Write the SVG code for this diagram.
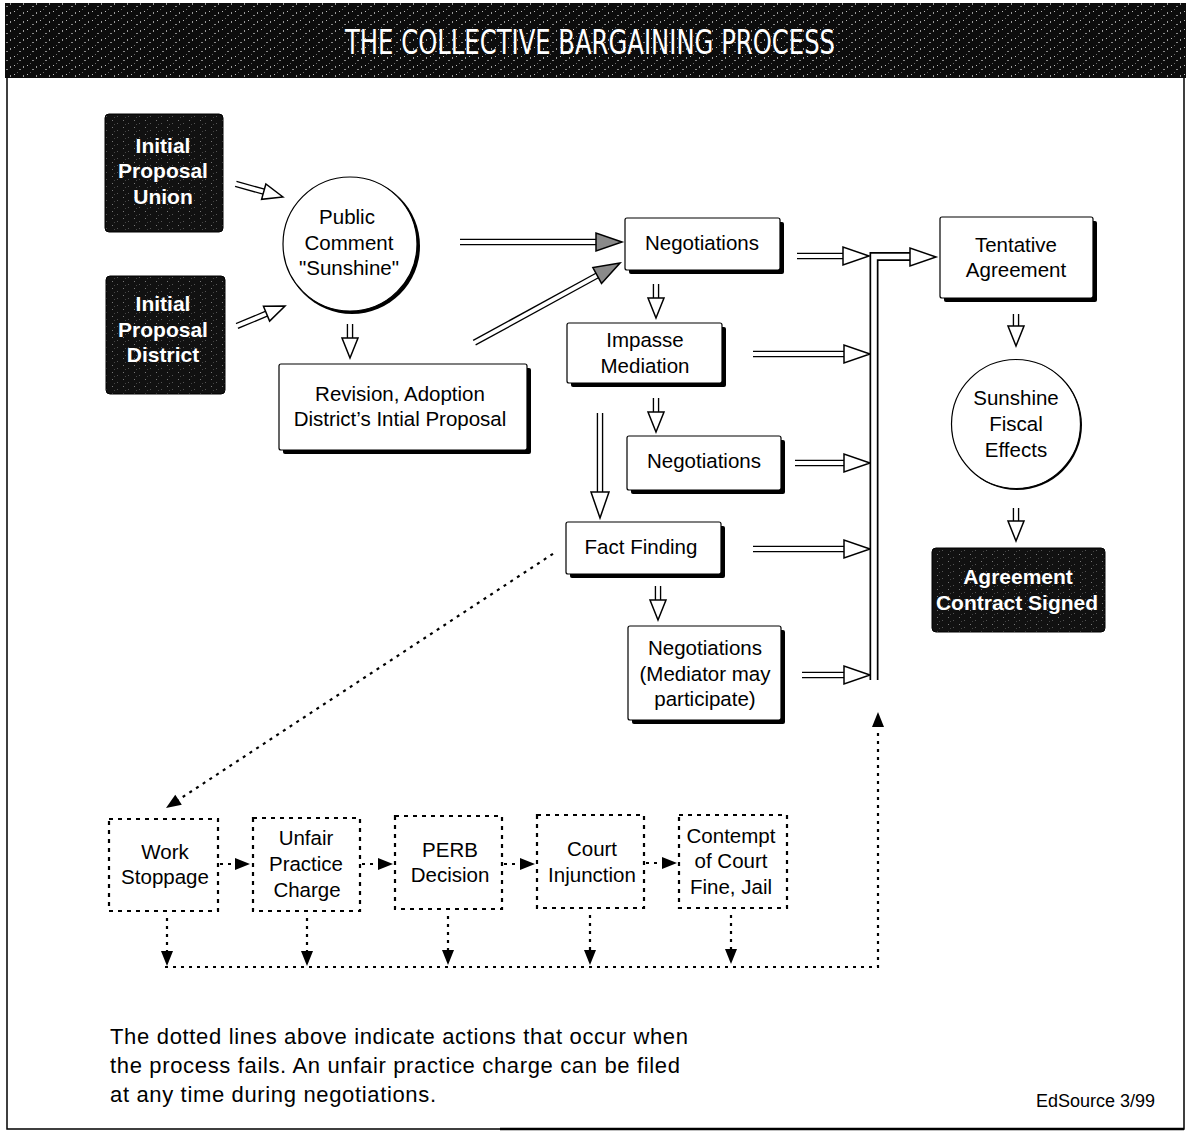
<svg xmlns="http://www.w3.org/2000/svg" xmlns:xlink="http://www.w3.org/1999/xlink" width="1188" height="1133" viewBox="0 0 1188 1133">
<style>
.t{font-family:"Liberation Sans",Arial,sans-serif;font-size:20.5px;fill:#000;text-anchor:middle}
.tw{font-family:"Liberation Sans",Arial,sans-serif;font-size:21px;font-weight:bold;fill:#fff;text-anchor:middle}
.bx{fill:#fff;stroke:#000;stroke-width:1.2}
.shd{fill:#000}
.blk{fill:url(#speck);stroke:#000;stroke-width:1}
.sh{fill:none;stroke:#000;stroke-width:6.5}
.si{fill:none;stroke:#fff;stroke-width:3.8}
.shw{fill:none;stroke:#000;stroke-width:9}
.siw{fill:none;stroke:#fff;stroke-width:5.6}
.hd{fill:#fff;stroke:#000;stroke-width:1.5;stroke-linejoin:miter}
.hg{fill:#8a8a8a;stroke:#000;stroke-width:1.5}
.dot{fill:none;stroke:#000;stroke-width:2.2;stroke-dasharray:3 5}
.dbx{fill:#fff;stroke:#000;stroke-width:2.2;stroke-dasharray:4 5}
.sol{fill:#000}
</style>
<defs>
<pattern id="speck" width="11" height="7" patternUnits="userSpaceOnUse">
<rect width="11" height="7" fill="#111"/>
<rect x="2" y="1" width="1" height="1" fill="#777"/>
<rect x="7" y="4" width="1" height="1" fill="#555"/>
<rect x="4" y="5" width="1" height="1" fill="#444"/>
</pattern>
<pattern id="hspeck" width="13" height="9" patternUnits="userSpaceOnUse">
<rect width="13" height="9" fill="#0c0c0c"/>
<rect x="1" y="2" width="1" height="1" fill="#bbb"/>
<rect x="6" y="6" width="2" height="1" fill="#888"/>
<rect x="10" y="3" width="1" height="2" fill="#999"/>
<rect x="4" y="0" width="1" height="1" fill="#666"/>
</pattern>
<path id="hdL" d="M0,0 L-26,-9 L-26,9 Z"/>
<path id="hdS" d="M0,0 L-20,-8 L-20,8 Z"/>
<path id="dh" d="M0,0 L-15,-6 L-15,6 Z"/>
</defs>

<rect x="0" y="0" width="1188" height="1133" fill="#fff"/>

<!-- header -->
<g id="header">
<rect x="5" y="3" width="1181" height="75" fill="url(#hspeck)"/>
<text x="590" y="54" font-family="'DejaVu Sans Condensed','Liberation Sans',sans-serif" font-size="34" fill="#fff" text-anchor="middle" textLength="490" lengthAdjust="spacingAndGlyphs">THE COLLECTIVE BARGAINING PROCESS</text>
</g>
<g id="frame" fill="none" stroke="#000">
<path d="M7,78 V1129 H1184 V78" stroke-width="1.5"/>
<path d="M500,1129 H1184" stroke-width="2.5"/>
</g>

<!-- nodes -->
<g id="union">
<rect class="blk" x="105" y="114" width="118" height="118" rx="4"/>
<text class="tw" x="163" y="153">Initial</text>
<text class="tw" x="163" y="178">Proposal</text>
<text class="tw" x="163" y="204">Union</text>
</g>
<g id="district">
<rect class="blk" x="106" y="276" width="119" height="118" rx="4"/>
<text class="tw" x="163" y="311">Initial</text>
<text class="tw" x="163" y="337">Proposal</text>
<text class="tw" x="163" y="362">District</text>
</g>
<g id="public">
<circle class="shd" cx="352" cy="246" r="68"/>
<circle class="bx" cx="350" cy="244" r="67"/>
<text class="t" x="347" y="224">Public</text>
<text class="t" x="349" y="250">Comment</text>
<text class="t" x="349" y="275">"Sunshine"</text>
</g>
<g id="revision">
<rect class="shd" x="283" y="368" width="248" height="86" rx="2"/>
<rect class="bx" x="279" y="364" width="248" height="86" rx="2"/>
<text class="t" x="400" y="401">Revision, Adoption</text>
<text class="t" x="400" y="426">District’s Intial Proposal</text>
</g>
<g id="neg1">
<rect class="shd" x="629" y="222" width="155" height="52" rx="2"/>
<rect class="bx" x="625" y="218" width="155" height="52" rx="2"/>
<text class="t" x="702" y="250">Negotiations</text>
</g>
<g id="impasse">
<rect class="shd" x="571" y="327" width="155" height="60" rx="2"/>
<rect class="bx" x="567" y="323" width="155" height="60" rx="2"/>
<text class="t" x="645" y="347">Impasse</text>
<text class="t" x="645" y="373">Mediation</text>
</g>
<g id="neg2">
<rect class="shd" x="631" y="440" width="154" height="54" rx="2"/>
<rect class="bx" x="627" y="436" width="154" height="54" rx="2"/>
<text class="t" x="704" y="468">Negotiations</text>
</g>
<g id="factfinding">
<rect class="shd" x="570" y="526" width="155" height="52" rx="2"/>
<rect class="bx" x="566" y="522" width="155" height="52" rx="2"/>
<text class="t" x="641" y="554">Fact Finding</text>
</g>
<g id="neg3">
<rect class="shd" x="632" y="630" width="153" height="94" rx="2"/>
<rect class="bx" x="628" y="626" width="153" height="94" rx="2"/>
<text class="t" x="705" y="655">Negotiations</text>
<text class="t" x="705" y="681">(Mediator may</text>
<text class="t" x="705" y="706">participate)</text>
</g>
<g id="tentative">
<rect class="shd" x="944" y="221" width="153" height="81" rx="2"/>
<rect class="bx" x="940" y="217" width="153" height="81" rx="2"/>
<text class="t" x="1016" y="252">Tentative</text>
<text class="t" x="1016" y="277">Agreement</text>
</g>
<g id="sunshine">
<circle class="shd" cx="1017" cy="425" r="65"/>
<circle class="bx" cx="1016" cy="424" r="64.5"/>
<text class="t" x="1016" y="405">Sunshine</text>
<text class="t" x="1016" y="431">Fiscal</text>
<text class="t" x="1016" y="457">Effects</text>
</g>
<g id="agreement">
<rect class="blk" x="932" y="548" width="173" height="84" rx="4"/>
<text class="tw" x="1018" y="584">Agreement</text>
<text class="tw" x="1017" y="610">Contract Signed</text>
</g>

<g id="workstoppage">
<rect class="dbx" x="109" y="819" width="109" height="92"/>
<text class="t" x="165" y="859">Work</text>
<text class="t" x="165" y="884">Stoppage</text>
</g>
<g id="unfair">
<rect class="dbx" x="253" y="818" width="107" height="93"/>
<text class="t" x="306" y="845">Unfair</text>
<text class="t" x="306" y="871">Practice</text>
<text class="t" x="307" y="897">Charge</text>
</g>
<g id="perb">
<rect class="dbx" x="395" y="816" width="107" height="93"/>
<text class="t" x="450" y="857">PERB</text>
<text class="t" x="450" y="882">Decision</text>
</g>
<g id="court">
<rect class="dbx" x="537" y="815" width="107" height="93"/>
<text class="t" x="592" y="856">Court</text>
<text class="t" x="592" y="882">Injunction</text>
</g>
<g id="contempt">
<rect class="dbx" x="679" y="815" width="108" height="93"/>
<text class="t" x="731" y="843">Contempt</text>
<text class="t" x="731" y="868">of Court</text>
<text class="t" x="731" y="894">Fine, Jail</text>
</g>

<!-- connectors -->
<g id="connectors">
<g transform="translate(283,197) rotate(15.5)">
<path class="sh" d="M-49,0 H-19"/><path class="si" d="M-50,0 H-19"/><use href="#hdS" class="hd"/>
</g>
<g transform="translate(285,306) rotate(-22.6)">
<path class="sh" d="M-52,0 H-19"/><path class="si" d="M-53,0 H-19"/><use href="#hdS" class="hd"/>
</g>
<g transform="translate(622,242)">
<path class="sh" d="M-162,0 H-25"/><path class="si" d="M-163,0 H-25"/><use href="#hdL" class="hg"/>
</g>
<g transform="translate(620,263) rotate(-28.7)">
<path class="sh" d="M-166,0 H-25"/><path class="si" d="M-167,0 H-25"/><use href="#hdL" class="hg"/>
</g>
<g transform="translate(350,358) rotate(90)">
<path class="sh" d="M-34,0 H-19"/><path class="si" d="M-35,0 H-19"/><use href="#hdS" class="hd"/>
</g>
<g transform="translate(656,318) rotate(90)">
<path class="sh" d="M-34,0 H-19"/><path class="si" d="M-35,0 H-19"/><use href="#hdS" class="hd"/>
</g>
<g transform="translate(656,432) rotate(90)">
<path class="sh" d="M-34,0 H-19"/><path class="si" d="M-35,0 H-19"/><use href="#hdS" class="hd"/>
</g>
<g transform="translate(600,518) rotate(90)">
<path class="sh" d="M-105,0 H-25"/><path class="si" d="M-106,0 H-25"/><use href="#hdL" class="hd"/>
</g>
<g transform="translate(658,620) rotate(90)">
<path class="sh" d="M-34,0 H-19"/><path class="si" d="M-35,0 H-19"/><use href="#hdS" class="hd"/>
</g>
<g transform="translate(869,256)">
<path class="sh" d="M-72,0 H-25"/><path class="si" d="M-73,0 H-25"/><use href="#hdL" class="hd"/>
</g>
<g transform="translate(870,354)">
<path class="sh" d="M-117,0 H-25"/><path class="si" d="M-118,0 H-25"/><use href="#hdL" class="hd"/>
</g>
<g transform="translate(870,463)">
<path class="sh" d="M-75,0 H-25"/><path class="si" d="M-76,0 H-25"/><use href="#hdL" class="hd"/>
</g>
<g transform="translate(870,549)">
<path class="sh" d="M-117,0 H-25"/><path class="si" d="M-118,0 H-25"/><use href="#hdL" class="hd"/>
</g>
<g transform="translate(870,675)">
<path class="sh" d="M-68,0 H-25"/><path class="si" d="M-69,0 H-25"/><use href="#hdL" class="hd"/>
</g>
<path class="shw" d="M874,680 V256.5 H912"/>
<path class="siw" d="M874,681 V256.5 H912"/>
<g transform="translate(936,257)"><use href="#hdL" class="hd"/></g>
<g transform="translate(1016,346) rotate(90)">
<path class="sh" d="M-32,0 H-19"/><path class="si" d="M-33,0 H-19"/><use href="#hdS" class="hd"/>
</g>
<g transform="translate(1016,541) rotate(90)">
<path class="sh" d="M-33,0 H-19"/><path class="si" d="M-34,0 H-19"/><use href="#hdS" class="hd"/>
</g>

<!-- dotted failure path -->
<g transform="translate(166,808) rotate(146.7)">
<path class="dot" d="M-463,0 H-14"/><use href="#dh" class="sol"/>
</g>
<g transform="translate(250,864)"><path class="dot" d="M-30,0 H-14"/><use href="#dh" class="sol"/></g>
<g transform="translate(393,864)"><path class="dot" d="M-31,0 H-14"/><use href="#dh" class="sol"/></g>
<g transform="translate(535,864)"><path class="dot" d="M-31,0 H-14"/><use href="#dh" class="sol"/></g>
<g transform="translate(677,863)"><path class="dot" d="M-31,0 H-14"/><use href="#dh" class="sol"/></g>

<g transform="translate(167,966) rotate(90)"><path class="dot" d="M-48,0 H-14"/><use href="#dh" class="sol"/></g>
<g transform="translate(307,966) rotate(90)"><path class="dot" d="M-48,0 H-14"/><use href="#dh" class="sol"/></g>
<g transform="translate(448,965) rotate(90)"><path class="dot" d="M-49,0 H-14"/><use href="#dh" class="sol"/></g>
<g transform="translate(590,965) rotate(90)"><path class="dot" d="M-50,0 H-14"/><use href="#dh" class="sol"/></g>
<g transform="translate(731,964) rotate(90)"><path class="dot" d="M-49,0 H-14"/><use href="#dh" class="sol"/></g>

<path class="dot" d="M165,967 H878 V728"/>
<g transform="translate(878,712) rotate(-90)"><use href="#dh" class="sol"/></g>
</g>

<!-- notes -->
<g id="notes" font-family="'Liberation Sans',Arial,sans-serif" fill="#000">
<text x="110" y="1044" font-size="22" textLength="578">The dotted lines above indicate actions that occur when</text>
<text x="110" y="1073" font-size="22" textLength="570">the process fails. An unfair practice charge can be filed</text>
<text x="110" y="1102" font-size="22" textLength="326">at any time during negotiations.</text>
<text x="1155" y="1107" font-size="18" text-anchor="end">EdSource 3/99</text>
</g>
</svg>
